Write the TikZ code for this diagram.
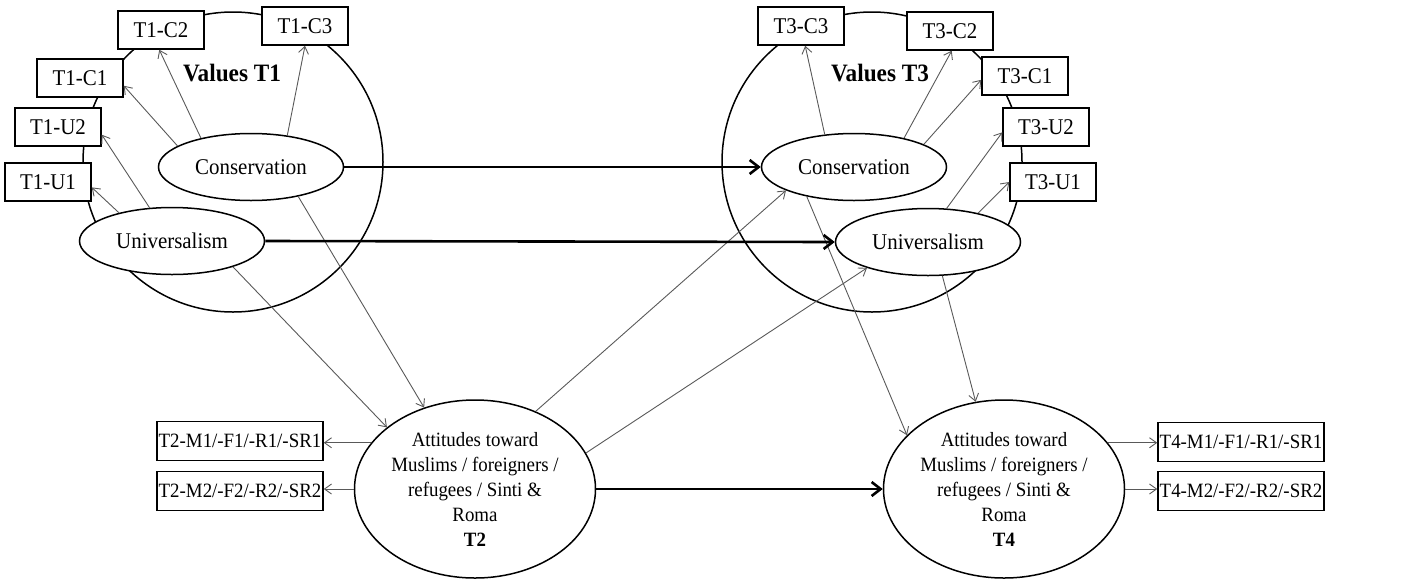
\documentclass[tikz,border=0pt]{standalone}
\usepackage{fontspec}
\setmainfont{Liberation Serif}[FakeStretch=0.93]
\usetikzlibrary{arrows.meta,shapes.geometric}
\begin{document}
\begin{tikzpicture}[x=1pt,y=-1pt,
  ind/.style={draw,line width=1.5pt,fill=white,inner sep=0pt,
    minimum width=86pt,minimum height=38pt,font=\fontsize{22.5}{24}\selectfont},
  wideind/.style={ind,minimum width=166pt,minimum height=39pt,
    font=\fontsize{20.3}{22}\selectfont},
  lat/.style={ellipse,draw,line width=1.5pt,fill=white,inner sep=0pt,
    minimum width=185pt,minimum height=67pt,font=\fontsize{22.5}{24}\selectfont},
  att/.style={ellipse,draw,line width=1.5pt,fill=white,inner sep=0pt,
    minimum width=241pt,minimum height=178pt,align=center,
    font=\fontsize{20.3}{25}\selectfont},
  frame/.style={draw,line width=1.5pt},
  load/.style={draw=black!65,line width=0.9pt,
    -{Straight Barb[length=7pt,width=10pt]}},
  stab/.style={line width=2.6pt,
    -{Straight Barb[length=9pt,width=14pt]}},
  grp/.style={font=\bfseries\fontsize{25}{26}\selectfont}
]
\useasboundingbox (0,0) rectangle (1402,579);

% value circles
\draw[frame] (233,162) circle[radius=150];
\draw[frame] (872,162) circle[radius=150];
\node[grp] (v1) at (232,73) {Values T1};
\node[grp] (v3) at (880,73) {Values T3};

% latent value factors
\node[lat] (cons1) at (251,167) {Conservation};
\node[lat] (univ1) at (172,241) {Universalism};
\node[lat] (cons3) at (854,167) {Conservation};
\node[lat] (univ3) at (928,242) {Universalism};

% attitude factors
\node[att] (att2) at (475,489) {Attitudes toward\\Muslims / foreigners /\\refugees / Sinti \&\\Roma\\\textbf{T2}};
\node[att] (att4) at (1004,489) {Attitudes toward\\Muslims / foreigners /\\refugees / Sinti \&\\Roma\\\textbf{T4}};

% indicators, wave 1
\node[ind] (t1c2) at (161,30) {T1-C2};
\node[ind] (t1c3) at (305,26) {T1-C3};
\node[ind] (t1c1) at (80,78) {T1-C1};
\node[ind] (t1u2) at (58,127) {T1-U2};
\node[ind] (t1u1) at (48,182) {T1-U1};

% indicators, wave 3
\node[ind] (t3c3) at (801,26) {T3-C3};
\node[ind] (t3c2) at (950,31) {T3-C2};
\node[ind] (t3c1) at (1025,76) {T3-C1};
\node[ind] (t3u2) at (1046,127) {T3-U2};
\node[ind] (t3u1) at (1053,182) {T3-U1};

% indicators, waves 2 and 4
\node[wideind] (t2a) at (240,441) {T2-M1/-F1/-R1/-SR1};
\node[wideind] (t2b) at (240,491) {T2-M2/-F2/-R2/-SR2};
\node[wideind] (t4a) at (1241,442) {T4-M1/-F1/-R1/-SR1};
\node[wideind] (t4b) at (1241,491) {T4-M2/-F2/-R2/-SR2};

% loadings, wave 1
\draw[load] (cons1.164) -- (t1c1.-10);
\draw[load] (cons1.150) -- (t1c2.-95);
\draw[load] (cons1.41) -- (t1c3.south);
\draw[load] (univ1.124) -- (t1u2.-10);
\draw[load] (univ1.152) -- (t1u1.-7);

% loadings, wave 3
\draw[load] (cons3.132) -- (t3c3.-78);
\draw[load] (cons3.30) -- (t3c2.-85);
\draw[load] (cons3.18) -- (t3c1.185);
\draw[load] (univ3.61) -- (t3u2.187);
\draw[load] (univ3.30) -- (t3u1.west);

% loadings, waves 2 and 4
\draw[load] (att2.156) -- (att2.156 -| t2a.east);
\draw[load] (att2.west) -- (att2.west -| t2b.east);
\draw[load] (att4.24) -- (att4.24 -| t4a.west);
\draw[load] (att4.east) -- (att4.east -| t4b.west);

% cross-lagged paths
\draw[load] (cons1.-32) -- (att2.122);
\draw[load] (univ1.-23) -- (att2.145);
\draw[load] (att2.52) -- (cons3.199);
\draw[load] (att2.18) -- (univ3.203);
\draw[load] (cons3.212) -- (att4.151);
\draw[load] (univ3.-67) -- (att4.108);

% stability paths
\draw[stab] (cons1.east) -- (cons3.west);
\draw[stab] (univ1.east) -- (univ3.west);
\draw[stab] (att2.east) -- (att4.west);
\end{tikzpicture}
\end{document}
